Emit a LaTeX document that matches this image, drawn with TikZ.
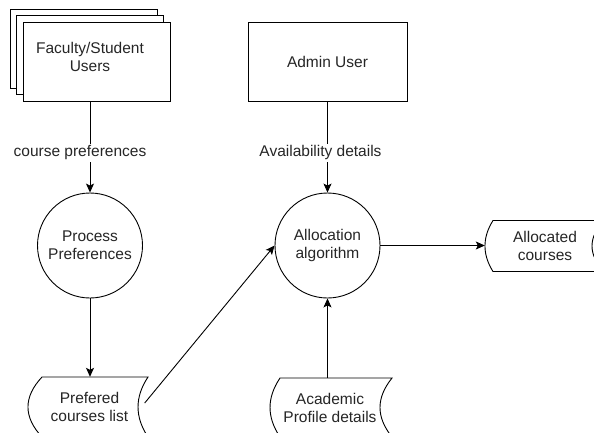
\documentclass[tikz,border=0pt]{standalone}
\usepackage{fontspec}
\setmainfont{Liberation Sans}
\usetikzlibrary{arrows.meta}
\begin{document}
\begin{tikzpicture}[x=1pt,y=-1pt,
  every node/.style={font=\fontsize{15.5}{18}\selectfont, text=black!85, align=center, inner sep=0pt},
  shapeline/.style={draw=black, line width=0.9pt, fill=white},
  conn/.style={draw=black, line width=0.9pt, -{Stealth[length=9pt,width=8pt,inset=2pt]}},
  lbl/.style={fill=white, inner sep=1.5pt},
  boxnode/.style={draw=black, line width=0.9pt, fill=white, minimum width=159pt, minimum height=79pt},
  procnode/.style={draw=black, line width=0.9pt, fill=white, circle, minimum size=105pt},
  txtnode/.style={draw=none}
]
\useasboundingbox (0,0) rectangle (594,432);
\clip (0,0) rectangle (594,432);

% stacked documents (Faculty/Student Users)
\draw[shapeline] (10,9) rectangle (157,88);
\draw[shapeline] (16.5,15.5) rectangle (163.5,94.5);
\draw[shapeline] (23,22) rectangle (170,101);
\node[txtnode, minimum width=160pt, minimum height=88pt] (fac) at (90,57) {Faculty/Student\\Users};

% Admin user
\node[boxnode] (admin) at (327.5,61.5) {Admin User};

% processes
\node[procnode] (procp) at (90,245.5) {Process\\Preferences};
\node[procnode] (alloc) at (327.5,245.5) {Allocation\\algorithm};

% stored data shapes
\draw[shapeline] (42,377) -- (148,377) .. controls (134.7,397) and (134.7,417) .. (148,437)
  -- (42,437) .. controls (23.3,417) and (23.3,397) .. cycle;
\node[txtnode, minimum width=120pt, minimum height=60pt] (pref) at (89.5,407) {Prefered\\courses list};

\draw[shapeline] (280,378) -- (392,378) .. controls (376,398) and (376,417) .. (392,437)
  -- (280,437) .. controls (266.7,417) and (266.7,398) .. cycle;
\node[txtnode, minimum width=122pt, minimum height=59pt] (acad) at (330,407.5) {Academic\\Profile details};

\draw[shapeline] (493,220.5) -- (604,220.5) .. controls (588,237.5) and (588,254.5) .. (604,271.5)
  -- (493,271.5) .. controls (482.3,254.5) and (482.3,237.5) .. cycle;
\node[txtnode, minimum width=120pt, minimum height=51pt] (out) at (545,246) {Allocated\\courses};

% connectors
\draw[conn] (fac.south) -- node[lbl, pos=0.565, xshift=-10pt] (lblpref) {course preferences} (procp.north);
\draw[conn] (admin.south) -- node[lbl, pos=0.565, xshift=-7pt] (lblavail) {Availability details} (alloc.north);
\draw[conn] (procp.south) -- (procp.south |- pref.north);
\draw[conn] ([shift={(-5,-4)}]pref.east) -- (alloc.west);
\draw[conn] (alloc.east) -- (alloc.east -| out.west);
\draw[conn] (alloc.south |- acad.north) -- (alloc.south);
\end{tikzpicture}
\end{document}
